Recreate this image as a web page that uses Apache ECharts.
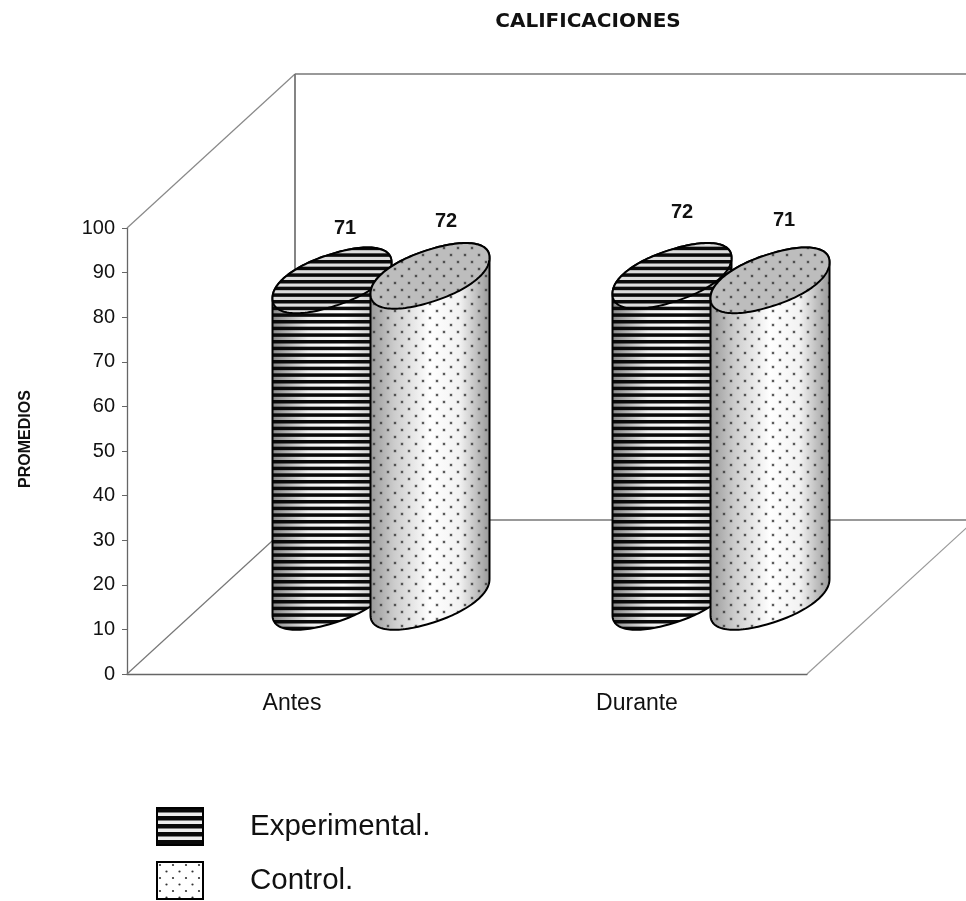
<!DOCTYPE html>
<html>
<head>
<meta charset="utf-8">
<style>html,body{margin:0;padding:0;background:#fff}#c{width:966px;height:901px;filter:blur(0.4px)}</style>
<script src="https://cdn.jsdelivr.net/npm/echarts@6/dist/echarts.min.js"></script>
</head>
<body>
<div id="c"></div>
<script>
var categories = ['Antes', 'Durante'];
var experimental = [71, 72];
var control = [72, 71];
var yTicks = [0, 100, 10];

// Oblique 3D box projection, cylinder shape (pixels)
var DEPTH_X = 168, DEPTH_Y = -154, MID = 0.5;
var BAR_OFFSET = 49, RX = 59.5, SKEW = 18, RY = 26.5, ROUND = 0.92;
var labelNudge = { Experimental: [[13, -52], [10, -63]], Control: [[16, -54], [14, -60]] };

function tile(w, h, draw) {
  var c = document.createElement('canvas');
  c.width = w; c.height = h;
  draw(c.getContext('2d'));
  return { image: c, repeat: 'repeat' };
}
function stripes() {
  return tile(4, 20, function (g) {
    g.fillStyle = '#0a0a0a';
    [0, 6.67, 13.33].forEach(function (y) { g.fillRect(0, y, 4, 3.5); });
  });
}
function dots() {
  return tile(14, 14, function (g) {
    [[3, 3], [10, 10]].forEach(function (p) {
      g.fillStyle = 'rgba(60,60,60,0.2)';
      g.beginPath(); g.arc(p[0], p[1], 2, 0, Math.PI * 2); g.fill();
      g.fillStyle = '#333';
      g.beginPath(); g.arc(p[0], p[1], 1, 0, Math.PI * 2); g.fill();
    });
  });
}
function dotsLegend() {
  return tile(13, 13, function (g) {
    g.fillStyle = '#fff'; g.fillRect(0, 0, 13, 13);
    g.fillStyle = '#333';
    [[3, 3], [9.5, 9.5]].forEach(function (p) {
      g.beginPath(); g.arc(p[0], p[1], 1.1, 0, Math.PI * 2); g.fill();
    });
  });
}
function stripesLegend() {
  return tile(4, 8, function (g) {
    g.fillStyle = '#eee'; g.fillRect(0, 0, 4, 8);
    g.fillStyle = '#0a0a0a'; g.fillRect(0, 0, 4, 4.5);
  });
}

function ell(cx, cy, t) {
  var c = Math.cos(t), s = Math.sin(t);
  var u = (c < 0 ? -1 : 1) * Math.pow(Math.abs(c), ROUND);
  var v = (s < 0 ? -1 : 1) * Math.pow(Math.abs(s), ROUND);
  return [cx + RX * u, cy - SKEW * u - RY * v];
}
function topEllipse(cx, cy) {
  var p = [];
  for (var i = 0; i < 144; i++) p.push(ell(cx, cy, i / 144 * Math.PI * 2));
  return p;
}
function body(cx, cyTop, cyBase) {
  var p = [], n = 72, i;
  for (i = 0; i <= n; i++) p.push(ell(cx, cyTop, Math.PI * i / n));
  for (i = 0; i <= n; i++) p.push(ell(cx, cyBase, Math.PI + Math.PI * i / n));
  return p;
}
function grad(stops) {
  return new echarts.graphic.LinearGradient(0, 0, 1, 0, stops.map(function (s) {
    return { offset: s[0], color: s[1] };
  }));
}

function cylinderSeries(name, values, dir, pattern, bodyStops, topFill) {
  return {
    name: name,
    type: 'custom',
    coordinateSystem: 'cartesian2d',
    encode: { x: 0, y: 1 },
    clip: false,
    z: dir < 0 ? 3 : 4,
    data: values.map(function (v, i) { return [i, v]; }),
    renderItem: function (params, api) {
      var idx = api.value(0), v = api.value(1);
      var t = api.coord([idx, v]), b = api.coord([idx, 0]);
      var cx = t[0] + dir * BAR_OFFSET + DEPTH_X * MID;
      var cyT = t[1] + DEPTH_Y * MID;
      var cyB = b[1] + DEPTH_Y * MID;
      var bp = body(cx, cyT, cyB), tp = topEllipse(cx, cyT);
      var nudge = labelNudge[name][idx];
      return {
        type: 'group',
        children: [
          { type: 'polygon', shape: { points: bp }, style: { fill: grad(bodyStops), stroke: null } },
          { type: 'polygon', shape: { points: bp }, style: { fill: pattern, stroke: '#000', lineWidth: 2 } },
          { type: 'polygon', shape: { points: tp }, style: { fill: topFill, stroke: null } },
          { type: 'polygon', shape: { points: tp }, style: { fill: pattern, stroke: '#000', lineWidth: 2 } },
          { type: 'text', style: {
              text: String(v), x: cx + nudge[0], y: cyT + nudge[1],
              align: 'center', verticalAlign: 'middle',
              font: 'bold 20px "Liberation Sans"', fill: '#111' } }
        ]
      };
    }
  };
}

var frameSeries = {
  type: 'custom',
  coordinateSystem: 'cartesian2d',
  clip: false,
  silent: true,
  z: 1,
  data: [[0, 0]],
  encode: { x: 0, y: 1 },
  renderItem: function (params) {
    var c = params.coordSys, L = c.x, R = c.x + c.width, T = c.y, B = c.y + c.height;
    var bl = L + DEPTH_X, br = R + DEPTH_X, bt = T + DEPTH_Y, bb = B + DEPTH_Y;
    function seg(x1, y1, x2, y2, col, w) {
      return { type: 'line', shape: { x1: x1, y1: y1, x2: x2, y2: y2 }, style: { stroke: col, lineWidth: w } };
    }
    return { type: 'group', children: [
      seg(L, T, bl, bt, '#888', 1.2),
      seg(L, B, bl, bb, '#777', 1.2),
      seg(bl, bt, bl, bb, '#666', 1.6),
      seg(bl, bt, br, bt, '#777', 1.6),
      seg(bl, bb, br, bb, '#777', 1.4),
      seg(R, B, br, bb, '#999', 1.2)
    ] };
  }
};

var chart = echarts.init(document.getElementById('c'), null, { renderer: 'canvas' });
chart.setOption({
  animation: false,
  backgroundColor: '#fff',
  title: {
    text: 'CALIFICACIONES',
    left: 583, top: 7, textAlign: 'center',
    textStyle: { fontFamily: 'DejaVu Sans', fontWeight: 'bold', fontSize: 20, color: '#111' }
  },
  legend: {
    orient: 'vertical', left: 156, top: 807, width: 400, height: 200, padding: 0, itemWidth: 46, itemHeight: 37, itemGap: 15,
    selectedMode: false,
    textStyle: { fontFamily: 'Liberation Sans', fontSize: 29.5, color: '#111', padding: [0, 0, 0, 42] },
    data: [
      { name: 'Experimental', icon: 'rect', itemStyle: { color: stripesLegend(), borderColor: '#000', borderWidth: 2 } },
      { name: 'Control', icon: 'rect', itemStyle: { color: dotsLegend(), borderColor: '#000', borderWidth: 2 } }
    ],
    formatter: function (n) { return n + '.'; }
  },
  grid: { left: 127, top: 228, width: 680, height: 446, containLabel: false },
  xAxis: {
    type: 'category',
    data: [{ value: categories[0], textStyle: { padding: [0, 10, 0, 0] } }, categories[1]],
    axisLine: { lineStyle: { color: '#666', width: 1.3 } },
    axisTick: { alignWithLabel: false, length: 6, lineStyle: { color: '#666' } },
    axisLabel: { fontFamily: 'Liberation Sans', fontSize: 23, color: '#111', margin: 18 }
  },
  yAxis: {
    type: 'value', min: yTicks[0], max: yTicks[1], interval: yTicks[2],
    name: 'PROMEDIOS', nameLocation: 'middle', nameGap: 93, nameRotate: 90,
    nameTextStyle: { fontFamily: 'Liberation Sans', fontWeight: 'bold', fontSize: 16, color: '#111', padding: [0, 0, 0, 24] },
    axisLine: { show: true, lineStyle: { color: '#666', width: 1.3 } },
    axisTick: { show: true, length: 5, lineStyle: { color: '#666' } },
    axisLabel: { fontFamily: 'Liberation Sans', fontSize: 20, color: '#111', margin: 12 },
    splitLine: { show: false }
  },
  series: [
    frameSeries,
    cylinderSeries('Experimental', experimental, -1, stripes(),
      [[0, '#888'], [0.3, '#eee'], [0.6, '#fff'], [1, '#aaa']], '#ddd'),
    cylinderSeries('Control', control, 1, dots(),
      [[0, '#999'], [0.2, '#ccc'], [0.5, '#fff'], [0.75, '#f2f2f2'], [1, '#999']], '#bdbdbd')
  ]
});
</script>
</body>
</html>
